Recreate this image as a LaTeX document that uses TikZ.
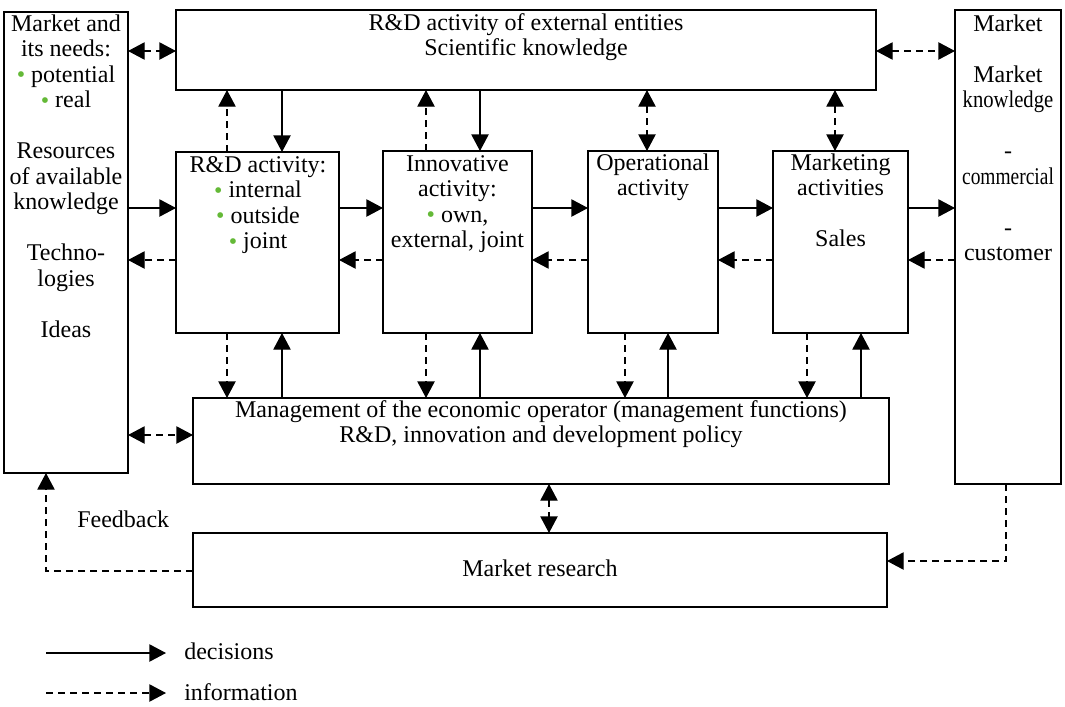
\documentclass[tikz,border=0pt]{standalone}
\usepackage{fontspec}
\setmainfont{Liberation Serif}
\usepackage{graphicx}
\usetikzlibrary{arrows.meta,calc}
\definecolor{dotgreen}{RGB}{100,185,55}
\newcommand\fs{\fontsize{18}{19.125}\selectfont}
\newcommand\fl{\rule{0pt}{13pt}}
\newcommand\gd{{\color{dotgreen}\raisebox{-0.3pt}{•}}\ }
\newcommand\bx[5]{\node[box, minimum width={(#4-#2)*0.75pt}, minimum height={(#5-#3)*0.75pt}] (#1) at ({(#2+#4)/2},{(#3+#5)/2}) {};}
\tikzset{
  box/.style={draw, line width=1.1pt, inner sep=0pt, outer sep=0pt},
  txt/.style={anchor=north, inner sep=0pt, align=center, font=\fs},
  lbl/.style={inner sep=0pt, font=\fs},
  tip/.tip={Triangle[length=12.5pt,width=13pt]},
  dec/.style={line width=1pt, -tip},
  info/.style={line width=1pt, dash pattern=on 5.25pt off 3.75pt, -tip},
  infob/.style={info, tip-tip},
}
\begin{document}
\begin{tikzpicture}[x=0.75pt, y=-0.75pt]
\useasboundingbox (0,0) rectangle (1065,707);
% boxes
\bx{L}{4}{12}{128}{473}
\bx{T}{176}{10}{876}{90}
\bx{R}{955}{10}{1061}{484}
\bx{RD}{176}{152}{339}{333}
\bx{IN}{383}{151}{532}{333}
\bx{OP}{588}{151}{718}{333}
\bx{MK}{773}{151}{908}{333}
\bx{MG}{193}{398}{889}{484}
\bx{MR}{193}{533}{887}{607}
% texts
\node[txt] (Lt) at (66,{31-17.33}) {\fl Market and\\its needs:\\\gd potential\\\gd real\\[19.125pt]Resources\\of available\\knowledge\\[19.125pt]Techno-\\logies\\[19.125pt]Ideas};
\node[txt] (Tt) at (526,{30-17.33}) {\fl R\&D activity of external entities\\Scientific knowledge};
\node[txt] (Rt) at (1008,{31-17.33}) {\fl Market\\[19.125pt]Market\\\scalebox{0.86}[1]{knowledge}\\[19.125pt]-\\\scalebox{0.81}[1]{commercial}\\[19.125pt]-\\customer};
\node[txt] (RDt) at (258,{172-17.33}) {\fl R\&D activity:\\\gd internal\\\gd outside\\\gd joint};
\node[txt] (INt) at (457.5,{171-17.33}) {\fl Innovative\\activity:\\\gd own,\\external, joint};
\node[txt] (OPt) at (653,{170-17.33}) {\fl Operational\\activity};
\node[txt] (MKt) at (840.5,{170-17.33}) {\fl Marketing\\activities\\[19.125pt]Sales};
\node[txt] (MGt) at (541,{417-17.33}) {\fl Management of the economic operator (management functions)\\R\&D, innovation and development policy};
\node[lbl, anchor=base] (MRt) at (540,576) {Market research};
\node[lbl, anchor=base west] (FB) at (77,527) {Feedback};
% helper coordinates
\coordinate (yA) at (0,51);
\coordinate (yB) at (0,208);
\coordinate (yC) at (0,260);
\coordinate (yD) at (0,435);
\coordinate (yE) at (0,561);
\coordinate (yF) at (0,571);
\coordinate (xa) at (227,0);
\coordinate (xb) at (282,0);
\coordinate (xc) at (426,0);
\coordinate (xd) at (480,0);
\coordinate (xe) at (647,0);
\coordinate (xf) at (835,0);
\coordinate (xg) at (625,0);
\coordinate (xh) at (668,0);
\coordinate (xi) at (807,0);
\coordinate (xj) at (861,0);
\coordinate (xk) at (549,0);
\coordinate (xl) at (1006,0);
\coordinate (xm) at (46,0);
% top row connections
\draw[infob] (L.east |- yA) -- (T.west |- yA);
\draw[infob] (T.east |- yA) -- (R.west |- yA);
% horizontal chain
\draw[dec] (L.east |- yB) -- (RD.west |- yB);
\draw[dec] (RD.east |- yB) -- (IN.west |- yB);
\draw[dec] (IN.east |- yB) -- (OP.west |- yB);
\draw[dec] (OP.east |- yB) -- (MK.west |- yB);
\draw[dec] (MK.east |- yB) -- (R.west |- yB);
\draw[info] (RD.west |- yC) -- (L.east |- yC);
\draw[info] (IN.west |- yC) -- (RD.east |- yC);
\draw[info] (OP.west |- yC) -- (IN.east |- yC);
\draw[info] (MK.west |- yC) -- (OP.east |- yC);
\draw[info] (R.west |- yC) -- (MK.east |- yC);
% top box to row
\draw[info] (xa |- RD.north) -- (xa |- T.south);
\draw[dec] (xb |- T.south) -- (xb |- RD.north);
\draw[info] (xc |- IN.north) -- (xc |- T.south);
\draw[dec] (xd |- T.south) -- (xd |- IN.north);
\draw[infob] (xe |- T.south) -- (xe |- OP.north);
\draw[infob] (xf |- T.south) -- (xf |- MK.north);
% row to management
\draw[info] (xa |- RD.south) -- (xa |- MG.north);
\draw[dec] (xb |- MG.north) -- (xb |- RD.south);
\draw[info] (xc |- IN.south) -- (xc |- MG.north);
\draw[dec] (xd |- MG.north) -- (xd |- IN.south);
\draw[info] (xg |- OP.south) -- (xg |- MG.north);
\draw[dec] (xh |- MG.north) -- (xh |- OP.south);
\draw[info] (xi |- MK.south) -- (xi |- MG.north);
\draw[dec] (xj |- MG.north) -- (xj |- MK.south);
% management links
\draw[infob] (L.east |- yD) -- (MG.west |- yD);
\draw[infob] (xk |- MG.south) -- (xk |- MR.north);
\draw[info] (xl |- R.south) |- (MR.east |- yE);
\draw[info] (MR.west |- yF) -| (xm |- L.south);
% legend
\coordinate (d1) at (46,653);
\coordinate (d2) at (166,653);
\coordinate (i1) at (46,693);
\coordinate (i2) at (166,693);
\draw[dec] (d1) -- (d2);
\draw[info] (i1) -- (i2);
\node[lbl, anchor=base west] (ldec) at (184,659) {decisions};
\node[lbl, anchor=base west] (linf) at (184,700) {information};
\end{tikzpicture}
\end{document}
